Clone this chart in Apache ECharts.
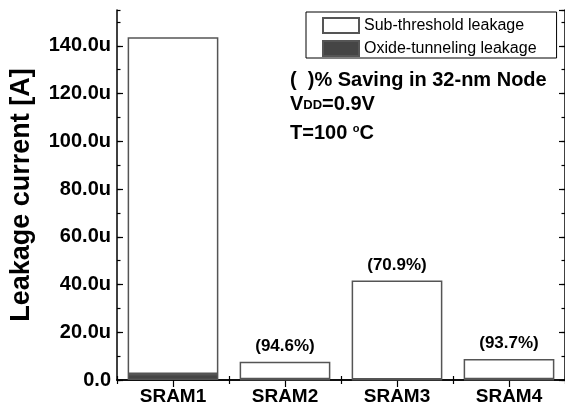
<!DOCTYPE html>
<html>
<head>
<meta charset="utf-8">
<script src="https://cdn.jsdelivr.net/npm/echarts@6/dist/echarts.min.js"></script>
<style>
  html, body { margin: 0; padding: 0; background: #fff; }
  #chart { width: 565px; height: 412px; }
</style>
</head>
<body>
<div id="chart"></div>
<script>
// Leakage current per SRAM cell, 32-nm node (values in uA)
var categories = ['SRAM1', 'SRAM2', 'SRAM3', 'SRAM4'];
var oxideTunneling = [2.5, 0.3, 0.2, 0.3];
var subThreshold = [141.1, 7.3, 41.5, 8.5];
var savingPct = [null, '94.6', '70.9', '93.7'];
var yTicks = [0, 20, 40, 60, 80, 100, 120, 140];

var FONT = '"Liberation Sans", Arial, sans-serif';
var chart = echarts.init(document.getElementById('chart'), null, { renderer: 'canvas' });

var gridBox = { left: 113, right: -3, top: 10, bottom: 32 };

function catAxis(pos, alignCenter, len, showLine, showLabel) {
  return {
    type: 'category',
    position: pos,
    data: categories,
    axisLine: { show: showLine, lineStyle: { color: '#000', width: 1.5 } },
    axisTick: { show: true, inside: true, alignWithLabel: alignCenter, length: len,
                lineStyle: { color: '#000', width: 1.2 } },
    axisLabel: showLabel ? { show: true, fontFamily: FONT, fontWeight: 'bold', fontSize: 19,
                             color: '#000', margin: 7 } : { show: false },
    splitLine: { show: false }
  };
}

function valAxis(pos, interval, len, showLine, showLabel) {
  return {
    type: 'value',
    position: pos,
    min: 0,
    max: 155,
    interval: interval,
    axisLine: { show: showLine, lineStyle: { color: '#000', width: 1.5 } },
    axisTick: { show: true, inside: true, length: len, lineStyle: { color: '#000', width: 1.2 } },
    axisLabel: showLabel ? {
      show: true, fontFamily: FONT, fontWeight: 'bold', fontSize: 20, color: '#000', margin: 6,
      showMaxLabel: false,
      formatter: function (v) {
        if (yTicks.indexOf(v) < 0) return '';
        return v === 0 ? '0.0' : v.toFixed(1) + 'u';
      }
    } : { show: false },
    splitLine: { show: false },
    name: showLabel ? 'Leakage current [A]' : '',
    nameLocation: 'middle',
    nameGap: 82,
    nameTextStyle: { fontFamily: FONT, fontWeight: 'bold', fontSize: 27, color: '#000' }
  };
}

var option = {
  backgroundColor: '#fff',
  animation: false,
  grid: gridBox,
  legend: {
    left: 306,
    top: 12,
    orient: 'vertical',
    itemWidth: 36,
    itemHeight: 15,
    itemGap: 6,
    padding: [5, 20, 1, 16],
    borderColor: '#000',
    borderWidth: 1,
    backgroundColor: '#fff',
    icon: 'rect',
    selectedMode: false,
    textStyle: { fontFamily: FONT, fontSize: 16, color: '#000', lineHeight: 15 },
    data: ['Sub-threshold leakage', 'Oxide-tunneling leakage']
  },
  xAxis: [
    catAxis('bottom', false, 4, true, true),
    catAxis('bottom', true, 7, false, false),
    catAxis('top', false, 4, true, false),
    catAxis('top', true, 7, false, false)
  ],
  yAxis: [
    valAxis('left', 20, 6, true, true),
    valAxis('left', 10, 3.5, false, false),
    valAxis('right', 20, 6, true, false),
    valAxis('right', 10, 3.5, false, false)
  ],
  series: [
    {
      name: 'Oxide-tunneling leakage',
      type: 'bar',
      stack: 'total',
      barWidth: '81%',
      data: oxideTunneling,
      itemStyle: { color: '#454545', borderColor: '#555', borderWidth: 1.5 }
    },
    {
      name: 'Sub-threshold leakage',
      type: 'bar',
      stack: 'total',
      barWidth: '81%',
      data: subThreshold,
      itemStyle: { color: '#fff', borderColor: '#555', borderWidth: 1.5 },
      label: {
        show: true,
        position: 'top',
        distance: 7,
        fontFamily: FONT,
        fontWeight: 'bold',
        fontSize: 17,
        color: '#000',
        formatter: function (p) {
          var s = savingPct[p.dataIndex];
          return s ? '(' + s + '%)' : '';
        }
      }
    }
  ],
  graphic: [
    {
      type: 'text', left: 290, top: 70,
      style: { text: '(  )% Saving in 32-nm Node', fontFamily: FONT, fontWeight: 'bold',
               fontSize: 20, fill: '#000' }
    },
    {
      type: 'text', left: 290, top: 94,
      style: {
        text: '{a|V}{b|DD}{a|=0.9V}',
        rich: {
          a: { fontFamily: FONT, fontWeight: 'bold', fontSize: 20, fill: '#000', lineHeight: 22, verticalAlign: 'bottom' },
          b: { fontFamily: FONT, fontWeight: 'bold', fontSize: 13, fill: '#000', lineHeight: 22, verticalAlign: 'bottom', padding: [0, 0, 2, 0] }
        }
      }
    },
    {
      type: 'text', left: 290, top: 121,
      style: {
        text: '{a|T=100 }{b|o}{a|C}',
        rich: {
          a: { fontFamily: FONT, fontWeight: 'bold', fontSize: 20, fill: '#000', lineHeight: 22, verticalAlign: 'bottom' },
          b: { fontFamily: FONT, fontWeight: 'bold', fontSize: 11, fill: '#000', lineHeight: 22, verticalAlign: 'top', padding: [2, 0, 0, 0] }
        }
      }
    }
  ]
};

chart.setOption(option);
</script>
</body>
</html>
